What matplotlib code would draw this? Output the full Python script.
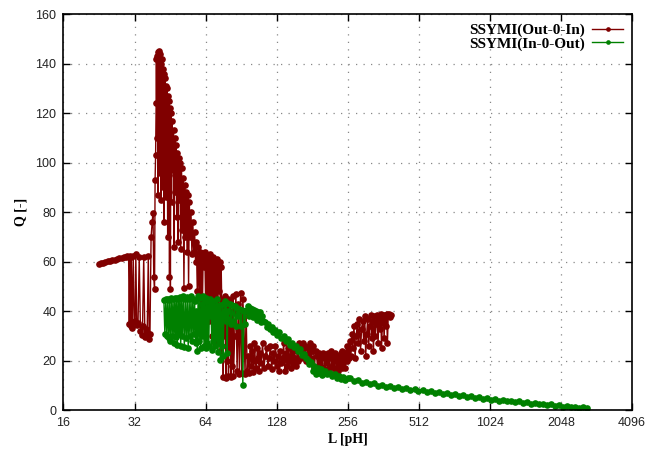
import matplotlib
matplotlib.use('Agg')
import matplotlib.pyplot as plt

# SSYMI(Out-0-In) : L [pH], Q [-]
red_L = [22.6, 23.0, 23.5, 24.0, 24.6, 25.2, 25.8, 26.4, 27.0, 27.6, 28.2, 28.8, 29.3, 29.8, 30.2,
         30.4, 30.6, 30.8, 31.0, 31.3, 31.6, 31.9, 32.2, 32.4, 32.7, 33.1, 33.5, 33.9, 34.3, 34.6,
         35.0, 35.4, 35.8, 36.2, 36.6, 36.9, 37.2,
         37.6, 38.0, 38.3, 38.6, 38.9, 39.1, 39.3, 39.5, 39.6, 39.8, 40.0, 40.2, 40.4, 40.6, 40.8,
         41.0, 41.2, 41.4, 41.6, 41.8, 42.0, 42.2, 42.4, 42.6, 42.8, 43.0, 43.2, 43.4, 43.6, 43.8,
         44.0, 44.2, 44.4, 44.6, 44.8, 45.0, 45.2, 45.4, 45.6, 45.9, 46.2, 46.5, 46.8, 47.1, 47.4,
         47.7, 48.0, 48.3, 48.6, 48.9, 49.2, 49.5, 49.8, 50.2, 50.6, 51.0, 51.4, 51.8, 52.2, 52.6,
         53.0, 53.4, 53.8, 54.2, 54.6, 55.0, 55.5, 56.0, 56.5, 57.0, 57.5, 58.0, 58.5, 59.0, 59.5,
         60.0, 60.5, 61.0, 61.5, 62.0, 62.5, 63.0, 63.5, 64.0,
         64.5, 65.0, 65.5, 66.0, 66.5, 67.0, 67.5, 68.0, 68.5, 69.0, 69.5, 70.0, 70.5, 71.0, 71.5,
         72.0, 72.5, 73.0, 73.5, 74.0, 74.5, 75.0, 75.5, 76.0, 76.5, 77.0, 77.5, 78.0, 78.5, 79.0,
         79.5, 80.0, 80.5, 81.0, 81.5, 82.0, 82.5, 83.0, 83.5, 84.0, 85, 86, 87, 88, 89, 90, 91, 92,
         93, 94, 95,
         96, 97, 98, 99, 100, 101, 102, 103, 104, 105, 106, 107, 108, 109, 110, 111.5, 113, 114.5,
         116, 117.5, 119, 120.5, 122, 123.5, 125, 126.5, 128, 129.5, 131, 132.5, 134, 135.5, 137,
         138.5, 140, 141.5, 143, 144.5, 146, 147.5, 149, 150.5, 152, 153.5, 155, 156.5, 158, 159.5,
         161, 163, 165, 167, 169, 171, 173, 175, 177, 179, 181, 183, 185, 187, 189, 191, 193, 195,
         197, 199, 201, 203, 205, 207, 209, 211, 213, 215, 217, 219, 221, 223, 225, 227, 229,
         231, 233, 235, 237, 239, 241, 243, 245, 247, 249, 251, 253, 255, 257, 259,
         261, 263, 266, 269, 272, 275, 278, 281, 284, 287, 290, 293, 296, 299, 302, 305, 308, 311,
         314, 317, 320, 323, 326, 329, 332, 335, 338, 341, 344, 347, 350, 353, 356, 359, 362, 365,
         368, 371, 374, 377, 380, 383, 386, 389]
red_Q = [59.2, 59.4, 59.6, 59.9, 60.1, 60.3, 60.6, 60.8, 61.1, 61.4, 61.6, 61.9, 62.1, 62.3, 62.0,
         34.8, 62.3, 34.0, 61.8, 33.2, 62.5, 35.5, 36.2, 63.0, 34.6, 35.2, 62.0, 32.0, 30.6, 34.0,
         61.8, 29.5, 33.0, 31.5, 62.5, 28.6, 31.0,
         70, 76, 79.8, 54, 49, 93, 103, 124, 142, 110, 143, 87, 144.5, 120, 145,
         96, 144, 85, 140, 110, 142, 90, 138, 76, 136, 100, 134, 86, 131, 118,
         130, 70, 127, 95, 125, 54, 122, 49, 120, 84, 117, 97, 113, 66, 110,
         88, 107, 78, 104, 68, 102, 85, 100, 65, 98, 73, 94, 49.5, 91, 70,
         88, 64, 87, 50, 84, 70, 80, 63, 76, 64, 72, 60, 68, 48, 66,
         46, 64, 35, 63.5, 40, 63, 58, 64, 44,
         62, 42, 61, 36, 63, 45, 60, 30, 62, 40, 61, 27, 60, 44, 61,
         33, 59, 48, 60, 24, 58, 40, 45, 13.5, 44, 30, 46, 13, 42, 20,
         45, 14, 38, 25, 44, 13.5, 40, 18, 46, 14, 30, 47, 16, 43, 14.5, 47.5, 15, 45,
         35, 14.5, 40,
         16, 22, 15, 26, 18, 24, 15.5, 27, 20, 17, 25, 21, 16, 23, 19, 27, 17, 22,
         25, 18, 21, 26, 16.5, 23, 20, 26, 18, 22, 16, 24, 19, 21, 27,
         16, 23, 18, 25, 20, 22, 17, 24, 19, 26, 21, 18, 24, 20, 27,
         25, 21, 27, 22, 26, 20, 25, 23, 27, 21, 24, 26, 17, 24, 22, 16, 23, 19,
         22, 17.5, 23, 21, 16.5, 22, 19, 23, 17, 21, 24, 18, 22, 17, 20, 23, 16,
         22, 16, 21, 18, 23, 17, 24, 19, 22, 17, 23, 26, 20, 24, 21,
         28, 22, 31, 25, 34, 21, 30, 35, 27, 37, 24, 33, 36, 28, 38, 22, 31, 37,
         26, 34, 38.5, 29, 36, 24, 38, 30, 35, 38.5, 27, 37, 33, 38.8, 25, 36, 38.6, 29,
         38.5, 34, 38.8, 27, 38.4, 38.8, 37.5, 38.6]

# SSYMI(In-0-Out)
green_L = [42.6, 43.0, 43.4, 43.8, 44.2, 44.6, 45.0, 45.4, 45.8, 46.2, 46.6, 47.0, 47.4, 47.8,
           48.2, 48.6, 49.0, 49.4, 49.8, 50.2, 50.6, 51.0, 51.5, 52.0, 52.5, 53.0, 53.5, 54.0,
           54.5, 55.0, 55.5, 56.0, 56.5, 57.0, 57.5, 58.0, 58.5, 59.0, 59.5, 60.0, 60.5, 61.0,
           61.5, 62.0, 62.5, 63, 63.5, 64,
           64.5, 65, 65.5, 66, 66.5, 67, 67.5, 68, 68.5, 69, 69.5, 70, 70.5, 71, 71.5, 72, 72.5,
           73, 73.5, 74, 74.5, 75, 75.5, 76, 76.5, 77, 77.5, 78, 78.5, 79, 79.5, 80, 81, 82, 83,
           84, 85, 86, 87, 88, 89, 90, 91, 92, 93, 94, 95,
           96, 97, 98, 99, 100, 101, 102, 103, 104, 105, 106, 107, 108, 109, 110, 111, 112, 114,
           116, 118, 120, 122, 124, 126, 128, 131, 134, 137, 140, 143, 146, 149, 152, 155, 158,
           161, 164, 167, 170, 173, 176, 179, 182, 185, 188, 191, 194, 197, 200, 205, 210, 215,
           220, 225, 230, 235, 240, 245, 250, 256,
           262, 272, 283, 295, 306, 319, 331, 345, 358, 373, 388, 403, 419, 436, 454, 472, 491,
           510, 531, 552, 574, 597, 621, 646, 672, 699, 727, 756, 786, 817, 850, 884, 919, 956,
           994, 1034, 1075, 1118, 1163, 1210, 1258, 1308, 1361, 1415, 1472, 1531, 1592, 1656,
           1722, 1791, 1862, 1937, 2014, 2095, 2179, 2266, 2357, 2451, 2549, 2640]
green_Q = [44.5, 31, 44.8, 30, 45, 29, 44.5, 28, 45.2, 30, 45, 27, 45.5, 29.5,
           45.2, 26.5, 45, 31, 45.8, 26, 45.3, 30, 46, 25.5, 45, 29, 45.6, 25,
           44.8, 30, 46, 28, 45, 31, 44, 27, 40, 24, 46, 28, 45.5, 25,
           43, 30, 46, 26, 44, 25,
           45.5, 27, 44, 26, 45, 38, 43, 24.5, 44, 28, 42, 26, 40, 29, 45, 23.5, 41,
           27, 42.5, 20.5, 39, 26, 43, 22, 40, 38, 44, 36, 43.5, 23, 40, 37, 43, 35, 42.5,
           36, 42, 34, 41.5, 38, 41, 34, 40.5, 10.3, 40, 35, 40,
           40.5, 42, 38, 41.5, 39, 40.8, 37.5, 40.5, 38.5, 40, 36.5, 39.8, 37, 39.5, 35.5, 38, 36, 35.5,
           33.5, 35, 33, 33.8, 31.5, 32.5, 30.5, 31.5, 29, 30, 28, 28.8, 26.5, 27.2, 25.5, 26, 24,
           24.6, 22.5, 22.8, 21, 20.5, 18.5, 19.5, 16, 18, 14.5, 17, 15, 16.5, 14.2, 15.8, 14.5, 15.2,
           13.8, 14.6, 13.2, 14, 12.8, 13.5, 12.4, 13,
           12.9, 11.8, 12.3, 11.0, 11.6, 10.5, 11.0, 10.0, 10.4, 9.5, 10.0, 9.0, 9.3, 8.5, 9.0, 8.2, 8.6,
           7.8, 8.2, 7.4, 7.8, 6.9, 7.3, 6.5, 6.9, 6.1, 6.4, 5.7, 6.1, 5.3, 5.7, 5.0, 5.3, 4.6,
           5.0, 4.3, 4.6, 3.9, 4.3, 3.6, 3.9, 3.3, 3.6, 3.0, 3.3, 2.7, 3.0, 2.4,
           2.7, 2.1, 2.4, 1.8, 2.1, 1.5, 1.8, 1.2, 1.5, 1.0, 1.3, 0.9]

x_ticks = [16, 32, 64, 128, 256, 512, 1024, 2048, 4096]
y_ticks = [0, 20, 40, 60, 80, 100, 120, 140, 160]


def main():
	fig = plt.figure(figsize=(6.66, 4.54), dpi=100)
	ax = fig.add_axes([0.0953, 0.0963, 0.8537, 0.8727])

	ax.plot(red_L, red_Q, color='#800000', lw=1.0, marker='o', ms=4.8, mew=0,
			label='SSYMI(Out-0-In)')
	ax.plot(green_L, green_Q, color='#008000', lw=1.0, marker='o', ms=4.8, mew=0,
			label='SSYMI(In-0-Out)')

	ax.set_xscale('log', base=2)
	ax.set_xlim(16, 4096)
	ax.set_ylim(0, 160)
	ax.set_xticks(x_ticks)
	ax.set_xticklabels([str(t) for t in x_ticks])
	ax.set_yticks(y_ticks)
	ax.minorticks_off()
	ax.tick_params(direction='in', top=True, right=True, length=5, width=1,
				   labelsize=9, labelcolor='#222222', pad=5)
	for lab in ax.get_xticklabels() + ax.get_yticklabels():
		lab.set_family('Liberation Sans')
	for s in ax.spines.values():
		s.set_linewidth(1.2)

	ax.grid(True, color='#888888', linestyle=(0, (1, 5)), linewidth=0.9)

	ax.set_xlabel('L [pH]', family='Liberation Serif', fontweight='bold', fontsize=10, labelpad=3)
	ax.set_ylabel('Q [-]', family='Liberation Serif', fontweight='bold', fontsize=10, labelpad=6)

	ax.legend(loc='upper right', frameon=False, markerfirst=False,
			  prop={'family': 'Liberation Serif', 'weight': 'bold', 'size': 11},
			  handlelength=2.0, handletextpad=0.5, labelspacing=0.0,
			  borderaxespad=0.2, markerscale=0.7)

	plt.savefig('out.png', dpi=100)


if __name__ == '__main__':
	main()
